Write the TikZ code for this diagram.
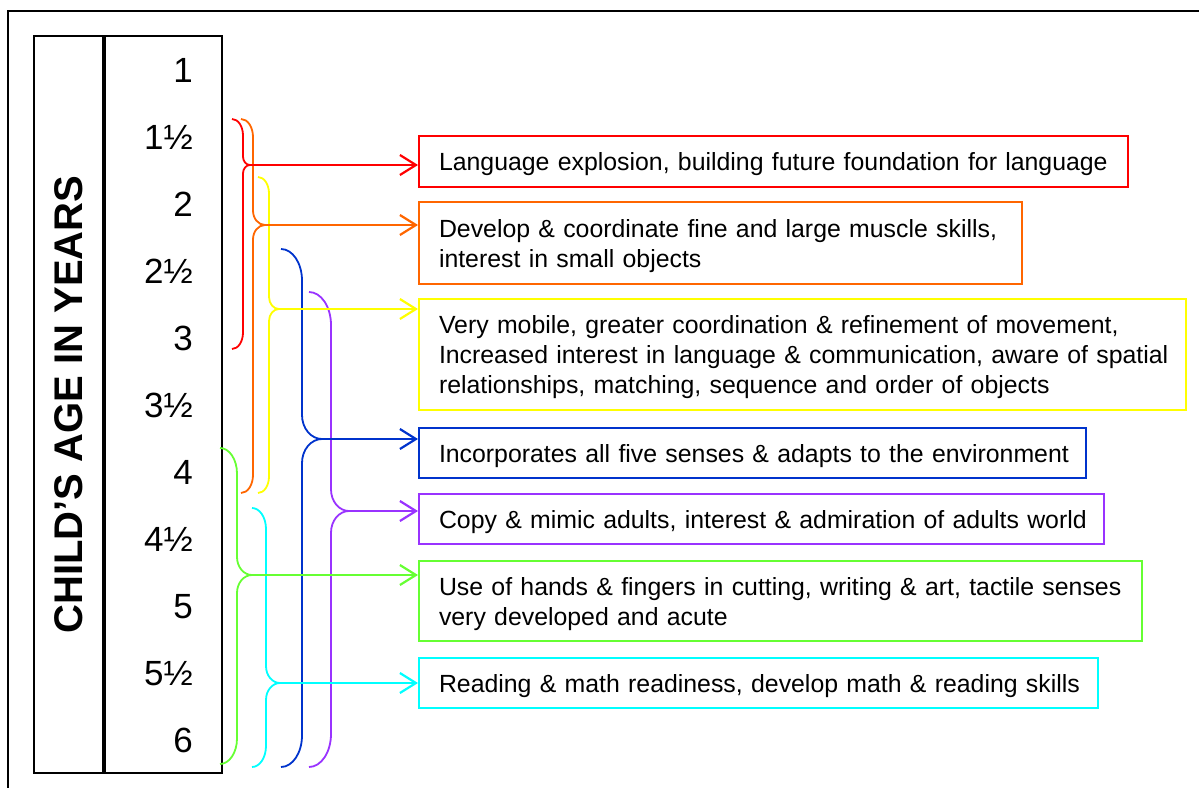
\documentclass[tikz,border=0pt]{standalone}
\usepackage{fontspec}
\setmainfont{Liberation Sans}
\usetikzlibrary{arrows.meta}

\definecolor{cRed}{RGB}{255,0,0}
\definecolor{cOrange}{RGB}{255,102,0}
\definecolor{cYellow}{RGB}{255,255,0}
\definecolor{cBlue}{RGB}{0,51,204}
\definecolor{cPurple}{RGB}{153,51,255}
\definecolor{cGreen}{RGB}{102,255,51}
\definecolor{cCyan}{RGB}{0,255,255}

% right-pointing curly brace: name, colour, end x, spine x, tip x, top y, tip y, bottom y
\newcommand\agebrace[8]{%
  \pgfmathsetmacro\bw{#4-#3}\pgfmathsetmacro\tw{#5-#4}%
  \pgfmathsetmacro\ra{1.5*\bw}\pgfmathsetmacro\rb{1.2*\tw}%
  \draw[bracepath,#2] (#3,#6) .. controls ({#3+0.552*\bw},#6) and (#4,{#6+0.448*\ra}) .. (#4,{#6+\ra})
    -- (#4,{#7-\rb}) .. controls (#4,{#7-0.448*\rb}) and ({#4+0.448*\tw},#7) .. (#5,#7)
    .. controls ({#4+0.448*\tw},#7) and (#4,{#7+0.448*\rb}) .. (#4,{#7+\rb})
    -- (#4,{#8-\ra}) .. controls (#4,{#8-0.448*\ra}) and ({#3+0.552*\bw},#8) .. (#3,#8);
  \coordinate (#1) at (#5,#7);}

\tikzset{
  bracepath/.style={line width=1.8pt},
  arr/.style={line width=2.2pt, -{Straight Barb[length=16pt,width=20pt]}},
  box/.style={draw, line width=2pt, anchor=north west, inner xsep=20pt, inner ysep=0pt,
    align=left, font=\fontsize{24.85}{30}\selectfont},
  oneline/.style={box, text depth=0pt},
  multiline/.style={box, text height=24pt},
  column/.style={draw, line width=2pt, anchor=north west, inner sep=0pt},
  num/.style={anchor=base east, inner sep=0pt, font=\fontsize{35}{35}\selectfont},
}

\begin{document}
\begin{tikzpicture}[x=1pt,y=-1pt]
\useasboundingbox (0,0) rectangle (1199,787);
\clip (0,0) rectangle (1199,787);

% outer frame
\draw[line width=1.5pt] (8,11) rectangle (1230,820);

% age columns
\node[column, minimum width=69pt, minimum height=737pt] (titlecol) at (33,35) {};
\node[column, minimum width=117pt, minimum height=737pt] (numcol) at (104,35) {};
\node[rotate=90, font=\bfseries\fontsize{40}{40}\selectfont] (title) at (titlecol.center) {CHILD’S AGE IN YEARS};

\node[num] (a10) at (193,82)  {1};
\node[num] (a15) at (193,149) {1½};
\node[num] (a20) at (193,216) {2};
\node[num] (a25) at (193,283) {2½};
\node[num] (a30) at (193,350) {3};
\node[num] (a35) at (193,417) {3½};
\node[num] (a40) at (193,484) {4};
\node[num] (a45) at (193,551) {4½};
\node[num] (a50) at (193,618) {5};
\node[num] (a55) at (193,685) {5½};
\node[num] (a60) at (193,752) {6};

% milestone boxes
\node[oneline, draw=cRed, text width=669pt, minimum height=51pt] (bLang) at (418,135)
  {\mbox{Language explosion, building future foundation for language}};
\node[multiline, draw=cOrange, text width=563pt, minimum height=82pt] (bMuscle) at (418,201)
  {\mbox{Develop \& coordinate fine and large muscle skills,}\\\mbox{interest in small objects}};
\node[multiline, draw=cYellow, text width=727pt, minimum height=111pt] (bMobile) at (418,298)
  {\mbox{Very mobile, greater coordination \& refinement of movement,}\\
   \mbox{Increased interest in language \& communication, aware of spatial}\\
   \mbox{relationships, matching, sequence and order of objects}};
\node[oneline, draw=cBlue, text width=627pt, minimum height=50pt] (bSenses) at (418,427)
  {\mbox{Incorporates all five senses \& adapts to the environment}};
\node[oneline, draw=cPurple, text width=645pt, minimum height=50pt] (bAdults) at (418,493)
  {\mbox{Copy \& mimic adults, interest \& admiration of adults world}};
\node[multiline, draw=cGreen, text width=683pt, minimum height=80pt] (bHands) at (418,560)
  {\mbox{Use of hands \& fingers in cutting, writing \& art, tactile senses}\\\mbox{very developed and acute}};
\node[oneline, draw=cCyan, text width=639pt, minimum height=50pt] (bRead) at (418,657)
  {\mbox{Reading \& math readiness, develop math \& reading skills}};

% age-range braces
\agebrace{tRed}{cRed}{232}{243}{250}{119}{165}{349}
\agebrace{tOrange}{cOrange}{241}{253}{265}{119}{225}{493}
\agebrace{tYellow}{cYellow}{258}{269}{279}{177}{309}{493}
\agebrace{tBlue}{cBlue}{281}{302}{322}{249}{439}{767}
\agebrace{tPurple}{cPurple}{309}{331}{349}{292}{511}{767}
\agebrace{tGreen}{cGreen}{220}{237}{252}{448}{575}{764}
\agebrace{tCyan}{cCyan}{252}{266}{280}{508}{683}{767}

% connectors to the milestones
\draw[arr, cRed]    (tRed)    -- (tRed -| bLang.west);
\draw[arr, cOrange] (tOrange) -- (tOrange -| bMuscle.west);
\draw[arr, cYellow] (tYellow) -- (tYellow -| bMobile.west);
\draw[arr, cBlue]   (tBlue)   -- (tBlue -| bSenses.west);
\draw[arr, cPurple] (tPurple) -- (tPurple -| bAdults.west);
\draw[arr, cGreen]  (tGreen)  -- (tGreen -| bHands.west);
\draw[arr, cCyan]   (tCyan)   -- (tCyan -| bRead.west);
\end{tikzpicture}
\end{document}
